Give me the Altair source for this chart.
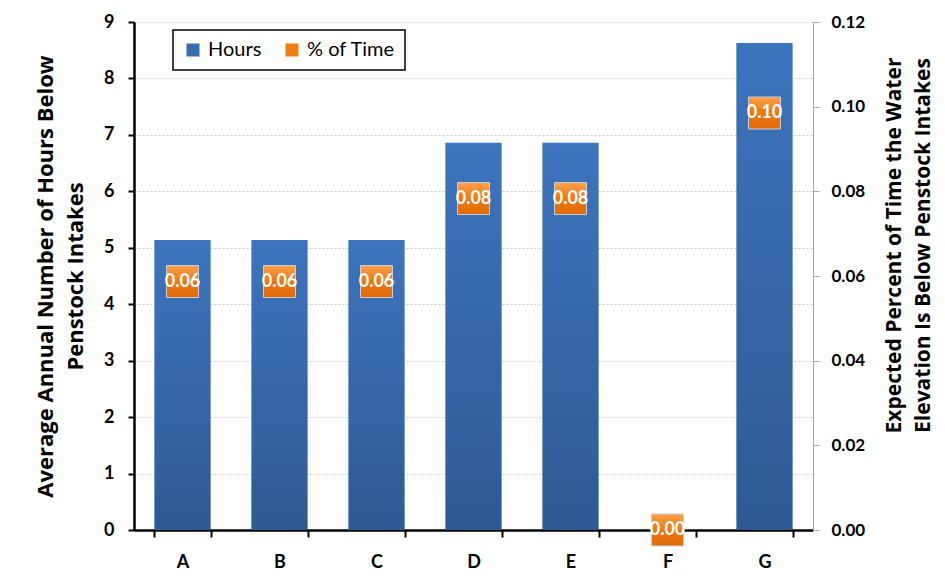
import altair as alt
import pandas as pd

categories = ["A", "B", "C", "D", "E", "F", "G"]
hours = [5.14, 5.14, 5.14, 6.86, 6.86, 0.0, 8.63]
pct_time = [0.0587, 0.0587, 0.0587, 0.0783, 0.0783, 0.0, 0.0985]
series = ["Hours", "% of Time"]
series_colors = ["#3A6DB0", "#F07F12"]
left_ticks = [0, 1, 2, 3, 4, 5, 6, 7, 8, 9]
right_ticks = [0.0, 0.02, 0.04, 0.06, 0.08, 0.10, 0.12]

FONT = "Lato"
TFONT = "Open Sans"

df = pd.DataFrame({"cat": categories, "hours": hours, "pct": pct_time})
legend_df = pd.DataFrame({"series": series})

x_enc = alt.X(
    "cat:N",
    sort=categories,
    scale=alt.Scale(paddingInner=0.42, paddingOuter=0.21),
    axis=alt.Axis(
        title=None,
        tickBand="extent",
        labelAngle=0,
        labelFont=FONT,
        labelFontSize=18,
        labelFontWeight="bold",
        labelColor="black",
        labelPadding=16,
        domainColor="black",
        domainWidth=2.5,
        tickColor="black",
        tickWidth=2,
        tickSize=7,
        grid=False,
    ),
)

bar_grad = alt.LinearGradient(
    gradient="linear",
    stops=[
        alt.GradientStop(color="#3D74BE", offset=0),
        alt.GradientStop(color="#2D5A93", offset=1),
    ],
    x1=0, x2=0, y1=0, y2=1,
)

bars = alt.Chart(df).mark_bar(color=bar_grad, strokeWidth=0).encode(
    x=x_enc,
    y=alt.Y(
        "hours:Q",
        scale=alt.Scale(domain=[0, 9], nice=False),
        axis=alt.Axis(
            values=left_ticks,
            title=["Average Annual Number of Hours Below", "Penstock Intakes"],
            titleFont=TFONT,
            titleFontSize=22,
            titleFontWeight="bold",
            titleColor="black",
            titleLineHeight=30,
            titlePadding=16,
            labelFont=FONT,
            labelFontSize=18,
            labelFontWeight="bold",
            labelColor="black",
            labelPadding=14,
            domainColor="black",
            domainWidth=2.5,
            tickColor="black",
            tickWidth=2,
            tickSize=6,
            grid=True,
            gridColor="#C8C8C8",
            gridDash=[2, 2],
            gridWidth=1,
        ),
    ),
)

pct_grad = alt.LinearGradient(
    gradient="linear",
    stops=[
        alt.GradientStop(color="#FAA24C", offset=0),
        alt.GradientStop(color="#EE7A14", offset=0.45),
        alt.GradientStop(color="#E06A08", offset=1),
    ],
    x1=0, x2=0, y1=0, y2=1,
)

right_y = alt.Y(
    "pct:Q",
    scale=alt.Scale(domain=[0, 0.12], nice=False),
    axis=alt.Axis(
        orient="right",
        values=right_ticks,
        format=".2f",
        title=["Expected Percent of Time the Water", "Elevation Is  Below Penstock Intakes"],
        titleAngle=270,
        titleBaseline="top",
        titleAlign="center",
        titleY=223,
        titleFont=TFONT,
        titleFontSize=21,
        titleFontWeight="bold",
        titleColor="black",
        titleLineHeight=29,
        titlePadding=-10,
        labelFont=FONT,
        labelFontSize=17,
        labelFontWeight="bold",
        labelColor="black",
        labelPadding=12,
        domainColor="#A6A6A6",
        domainWidth=1,
        tickColor="#A6A6A6",
        tickWidth=1,
        tickSize=6,
        grid=False,
    ),
)

pct_base = alt.Chart(df).encode(x=x_enc, y=right_y)
squares = pct_base.mark_square(size=1024, color=pct_grad, opacity=1, stroke="#C9CFDA", strokeWidth=1)
labels = pct_base.mark_text(color="white", font=FONT, fontSize=18, fontWeight="bold").encode(
    text=alt.Text("pct:Q", format=".2f")
)
pct_layer = alt.layer(squares, labels)

legend_layer = alt.Chart(legend_df).mark_square(size=0).encode(
    color=alt.Color(
        "series:N",
        sort=series,
        scale=alt.Scale(domain=series, range=series_colors),
        legend=alt.Legend(
            title=None,
            orient="none",
            legendX=39,
            legendY=8,
            direction="horizontal",
            symbolType="square",
            symbolSize=169,
            symbolOpacity=1,
            symbolStrokeWidth=0,
            labelFont=FONT,
            labelFontSize=20,
            labelColor="black",
            labelOffset=5,
            columnPadding=20,
            padding=10,
            strokeColor="black",
            fillColor="white",
            cornerRadius=0,
        ),
    )
)

chart = (
    alt.layer(bars, pct_layer, legend_layer)
    .resolve_scale(y="independent", color="independent")
    .properties(
        width=679,
        height=508,
        autosize=alt.AutoSizeParams(type="none"),
        padding={"left": 126, "top": 14, "right": 124, "bottom": 46},
    )
    .configure_view(strokeWidth=0)
    .configure_legend(strokeWidth=1.5)
)

chart.save("out.html", embed_options={"renderer": "svg", "actions": False})
